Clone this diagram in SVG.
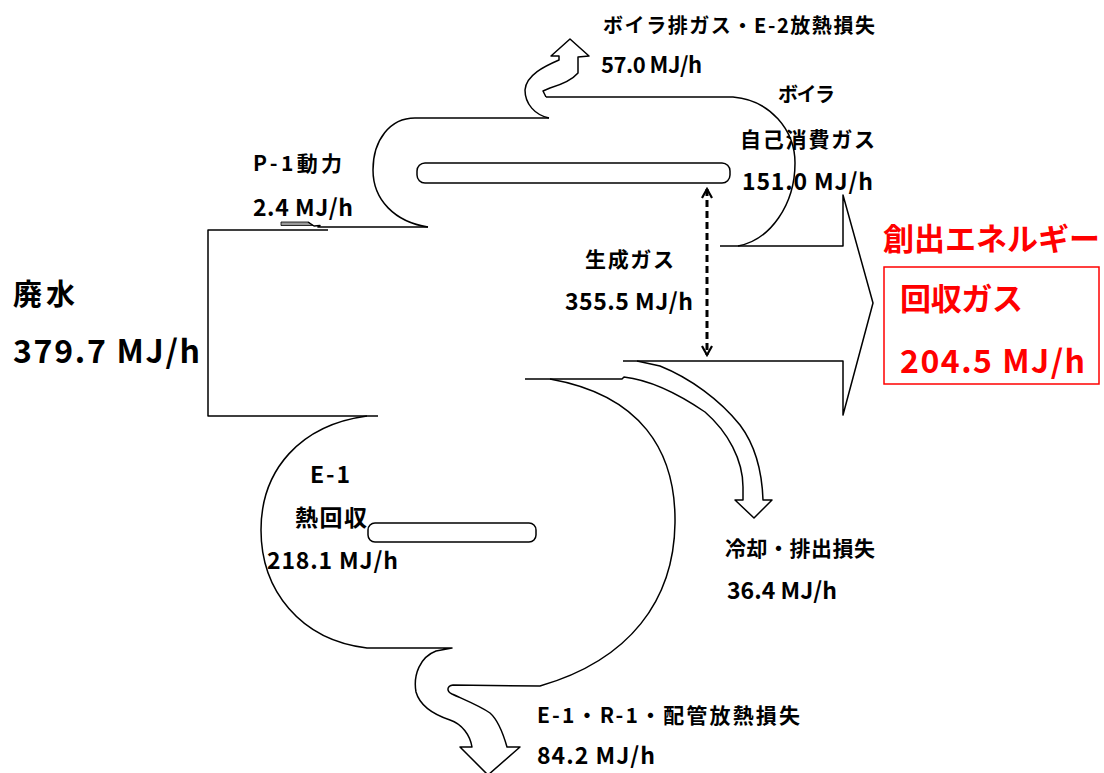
<svg xmlns="http://www.w3.org/2000/svg" width="1104" height="773" viewBox="0 0 1104 773">
<style>
.ol{fill:none;stroke:#000;stroke-width:1.5;stroke-linejoin:round}
.slot{fill:#fff;stroke:#000;stroke-width:1.5}
.t{font-family:"Noto Sans CJK JP","Noto Sans",sans-serif;font-weight:bold;fill:#000}
.r{fill:#ff0000}
</style>
<defs>
<marker id="vh" viewBox="0 0 12 12" refX="10" refY="6" markerWidth="12" markerHeight="12" markerUnits="userSpaceOnUse" orient="auto-start-reverse">
<path d="M1,1 L10,6 L1,11" fill="none" stroke="#000" stroke-width="2.2"/>
</marker>
</defs>
<rect width="1104" height="773" fill="#fff"/>

<g id="waste-water">
<path class="ol" d="M328,230 L208,230 L208,416 L378,416"/>
<text class="t" x="13" y="305" font-size="29" textLength="62">廃水</text>
<text class="t" x="13" y="363" font-size="32" textLength="187">379.7 MJ/h</text>
</g>

<g id="p1-power">
<polygon points="281,222 308,222 313,225.5 281,225.5" fill="#999" stroke="#000" stroke-width="0.8"/>
<path class="ol" d="M308,222 L314,226 L320,225.5 L318,227 L428,227"/>
<text class="t" x="253" y="171" font-size="21" textLength="89">P-1動力</text>
<text class="t" x="253" y="216" font-size="23" textLength="100">2.4 MJ/h</text>
</g>

<g id="boiler-loop">
<path class="ol" d="M428,227 C395,222 373,200 373,170 C373,140 390,118 415,118 L549,118"/>
<path class="ol" d="M546,97 L733,97 C770,100 795,130 795,163 C795,205 770,240 738,246"/>
<rect class="slot" x="417" y="163" width="313" height="20" rx="8"/>
<text class="t" x="778" y="102" font-size="20" textLength="57">ボイラ</text>
<text class="t" x="740" y="147" font-size="21" textLength="135">自己消費ガス</text>
<text class="t" x="742" y="190" font-size="23" textLength="131">151.0 MJ/h</text>
</g>

<g id="boiler-exhaust">
<path class="ol" d="M549,118 C535,115 525,104 525,90 C526,75 545,66 559,60 L559,56 L551,56 L570,39 L589,56 L578,57 L578,73 C572,80 560,85 550,88 L543,91 L546,97"/>
<text class="t" x="603" y="33" font-size="20" textLength="272">ボイラ排ガス・E-2放熱損失</text>
<text class="t" x="601" y="73" font-size="22" textLength="101">57.0 MJ/h</text>
</g>

<g id="generated-gas">
<path class="ol" d="M720,246 L843,246 L843,195 L873,303 L843,415 L843,361 L623,361"/>
<text class="t" x="585" y="267" font-size="21" textLength="89">生成ガス</text>
<text class="t" x="565" y="310" font-size="23" textLength="128">355.5 MJ/h</text>
</g>

<g id="recovered-gas">
<text class="t r" x="883" y="250" font-size="31" textLength="217">創出エネルギー</text>
<rect x="884" y="267" width="215" height="117" fill="none" stroke="#ff0000" stroke-width="1.5"/>
<text class="t r" x="900" y="310" font-size="31" textLength="123">回収ガス</text>
<text class="t r" x="900" y="373" font-size="32" textLength="185">204.5 MJ/h</text>
</g>

<g id="cooling-loss">
<path class="ol" d="M525,379 L622,379 L624,377 C650,380 680,395 705,412 C728,432 743,460 743,487 L743,500 L735,500 L754,518 L772,500 L763,500 C762,470 755,445 740,425 C720,400 690,378 660,366 L637,361"/>
<text class="t" x="725" y="556" font-size="21" textLength="150">冷却・排出損失</text>
<text class="t" x="727" y="599" font-size="23" textLength="110">36.4 MJ/h</text>
</g>

<g id="e1-loop">
<path class="ol" d="M550,379 C640,395 676,450 675,523 C674,600 630,660 540,686 L453,685 C447,686 446,691 452,694 C465,700 480,706 490,713 C498,720 503,733 507,747 L520,747 L488,775 L460,747 L472,747 C470,735 462,724 450,720 C435,715 420,706 416,692 C413,675 420,657 436,651 L452,648 L367,648 C300,640 261,590 261,530 C261,470 300,425 367,416"/>
<rect class="slot" x="368" y="523" width="168" height="19" rx="7"/>
<text class="t" x="310" y="483" font-size="23" textLength="40">E-1</text>
<text class="t" x="295" y="526" font-size="23" textLength="72">熱回収</text>
<text class="t" x="267" y="569" font-size="23" textLength="131">218.1 MJ/h</text>
</g>

<g id="pipe-loss">
<text class="t" x="537" y="723" font-size="21" textLength="263">E-1・R-1・配管放熱損失</text>
<text class="t" x="537" y="764" font-size="23" textLength="118">84.2 MJ/h</text>
</g>

<g id="connectors">
<line x1="707" y1="189" x2="707" y2="355" stroke="#000" stroke-width="3" stroke-dasharray="7,4" marker-start="url(#vh)" marker-end="url(#vh)"/>
</g>
</svg>
